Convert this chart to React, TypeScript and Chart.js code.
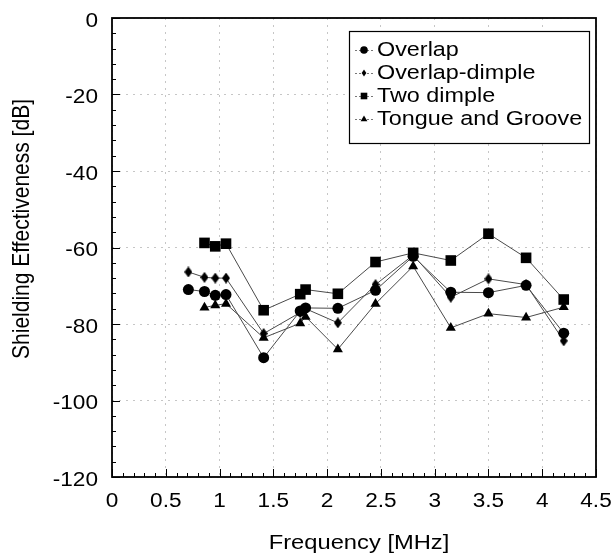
import React, { useEffect, useRef } from 'react';
import { Chart, registerables } from 'chart.js';

Chart.register(...registerables);

// ---- data ----
const freqWithLow = [0.71, 0.86, 0.96, 1.06, 1.41, 1.75, 1.8, 2.1, 2.45, 2.8, 3.15, 3.5, 3.85, 4.2];
const freqNoLow = [0.86, 0.96, 1.06, 1.41, 1.75, 1.8, 2.1, 2.45, 2.8, 3.15, 3.5, 3.85, 4.2];

const overlapValues = [-71.0, -71.5, -72.5, -72.3, -88.8, -76.6, -75.8, -75.9, -71.2, -62.3, -71.7, -71.8, -69.9, -82.4];
const overlapDimpleValues = [-66.4, -67.8, -68.0, -68.0, -82.5, -77.0, -76.0, -79.7, -69.7, -62.0, -73.0, -68.2, -69.7, -84.4];
const twoDimpleValues = [-58.8, -59.7, -59.0, -76.4, -72.2, -71.0, -72.1, -63.8, -61.4, -63.4, -56.4, -62.7, -73.6];
const tongueGrooveValues = [-75.7, -75.1, -74.7, -83.6, -79.8, -78.1, -86.6, -74.7, -64.9, -81.0, -77.3, -78.3, -75.6];

const seriesLabels = ['Overlap', 'Overlap-dimple', 'Two dimple', 'Tongue and Groove'];

const xMin = 0;
const xMax = 4.5;
const xStep = 0.5;
const yMin = -120;
const yMax = 0;
const yStep = 20;

const xTitle = 'Frequency [MHz]';
const yTitle = 'Shielding Effectiveness [dB]';

const FONT = '"Liberation Sans", Arial, Helvetica, sans-serif';
const STRETCH = 1.13;

function toPoints(xs: number[], ys: number[]) {
  return xs.map((x, i) => ({ x, y: ys[i] }));
}

function fmt(v: number) {
  return String(Math.round(v * 100) / 100);
}

function makeDiamond(w: number, h: number) {
  const c = document.createElement('canvas');
  c.width = w;
  c.height = h;
  const g = c.getContext('2d')!;
  g.fillStyle = '#000';
  g.beginPath();
  g.moveTo(w / 2, 0);
  g.lineTo(w, h / 2);
  g.lineTo(w / 2, h);
  g.lineTo(0, h / 2);
  g.closePath();
  g.fill();
  return c;
}

function drawMarker(ctx: CanvasRenderingContext2D, kind: string, x: number, y: number, r: number) {
  ctx.beginPath();
  if (kind === 'circle') {
    ctx.arc(x, y, r, 0, Math.PI * 2);
  } else if (kind === 'rect') {
    ctx.rect(x - r, y - r, 2 * r, 2 * r);
  } else if (kind === 'diamond') {
    ctx.moveTo(x, y - r * 1.25);
    ctx.lineTo(x + r * 0.85, y);
    ctx.lineTo(x, y + r * 1.25);
    ctx.lineTo(x - r * 0.85, y);
    ctx.closePath();
  } else if (kind === 'triangle') {
    ctx.moveTo(x, y - r);
    ctx.lineTo(x + r * 0.95, y + r * 0.65);
    ctx.lineTo(x - r * 0.95, y + r * 0.65);
    ctx.closePath();
  }
  ctx.fill();
}

function stretchedText(ctx: CanvasRenderingContext2D, text: string, x: number, y: number, align: CanvasTextAlign, sx: number) {
  ctx.save();
  ctx.translate(x, y);
  ctx.scale(sx, 1);
  ctx.textAlign = align;
  ctx.textBaseline = 'middle';
  ctx.fillText(text, 0, 0);
  ctx.restore();
}

const framePlugin = {
  id: 'frameTicks',
  afterDatasetsDraw(chart: any) {
    const { ctx, chartArea: a, scales } = chart;
    const x = scales.x;
    const y = scales.y;
    ctx.save();
    ctx.strokeStyle = '#000';
    ctx.lineWidth = 1;
    ctx.beginPath();
    for (let i = 0; i <= 45; i++) {
      const px = Math.round(x.getPixelForValue(i * 0.1)) + 0.5;
      const len = i % 5 === 0 ? 8 : 4;
      ctx.moveTo(px, a.bottom);
      ctx.lineTo(px, a.bottom - len);
    }
    for (let v = yMin; v <= yMax; v += 4) {
      const py = Math.round(y.getPixelForValue(v)) + 0.5;
      const len = v % 20 === 0 ? 8 : 4;
      ctx.moveTo(a.left, py);
      ctx.lineTo(a.left + len, py);
    }
    ctx.stroke();
    ctx.lineWidth = 1.8;
    ctx.strokeRect(a.left, a.top, a.right - a.left, a.bottom - a.top);
    ctx.restore();
  },
};

const labelsPlugin = {
  id: 'axisLabels',
  afterDraw(chart: any) {
    const { ctx, scales } = chart;
    const x = scales.x;
    const y = scales.y;
    ctx.save();
    ctx.fillStyle = '#000';
    ctx.font = `20px ${FONT}`;
    x.ticks.forEach((t: any) => {
      stretchedText(ctx, fmt(t.value), x.getPixelForValue(t.value), 501, 'center', STRETCH);
    });
    y.ticks.forEach((t: any) => {
      stretchedText(ctx, fmt(t.value), 98, y.getPixelForValue(t.value) + 3, 'right', STRETCH);
    });
    ctx.font = `21px ${FONT}`;
    stretchedText(ctx, xTitle, 359, 543, 'center', STRETCH);
    ctx.translate(22.5, 229);
    ctx.rotate(-Math.PI / 2);
    ctx.scale(1, STRETCH);
    ctx.textAlign = 'center';
    ctx.textBaseline = 'middle';
    ctx.fillText(yTitle, 0, 0);
    ctx.restore();
  },
};

const legendKinds = ['circle', 'diamond', 'rect', 'triangle'];
const legendSizes = [3.8, 2.8, 3.3, 3.6];

const legendPlugin = {
  id: 'boxLegend',
  afterDraw(chart: any) {
    const { ctx } = chart;
    const left = 349;
    const top = 31;
    const w = 240;
    const h = 112;
    ctx.save();
    ctx.fillStyle = '#fff';
    ctx.fillRect(left, top, w, h);
    ctx.strokeStyle = '#000';
    ctx.lineWidth = 1.2;
    ctx.strokeRect(left + 0.5, top + 0.5, w, h);
    chart.data.datasets.forEach((ds: any, i: number) => {
      const cy = 50 + i * 23;
      ctx.strokeStyle = '#777';
      ctx.lineWidth = 1;
      ctx.setLineDash([2, 2]);
      ctx.beginPath();
      ctx.moveTo(355, cy + 0.5);
      ctx.lineTo(374, cy + 0.5);
      ctx.stroke();
      ctx.setLineDash([]);
      ctx.fillStyle = '#000';
      drawMarker(ctx, legendKinds[i], 364, cy, legendSizes[i]);
      ctx.font = `20.5px ${FONT}`;
      stretchedText(ctx, ds.label, 377, cy + 0.5, 'left', 1.14);
    });
    ctx.restore();
  },
};

export default function App() {
  const canvasRef = useRef<HTMLCanvasElement | null>(null);

  useEffect(() => {
    if (!canvasRef.current) return;
    const common = {
      showLine: true,
      borderColor: '#4a4a4a',
      borderWidth: 1,
      backgroundColor: '#000',
      pointBackgroundColor: '#000',
      pointBorderColor: '#000',
      pointBorderWidth: 0,
      tension: 0,
    };
    const diamond = makeDiamond(8, 11);
    const chart = new Chart(canvasRef.current, {
      type: 'scatter',
      data: {
        datasets: [
          { ...common, label: seriesLabels[0], data: toPoints(freqWithLow, overlapValues), pointStyle: 'circle', pointRadius: 5.5 },
          { ...common, label: seriesLabels[1], data: toPoints(freqWithLow, overlapDimpleValues), pointStyle: diamond, pointRadius: 5 },
          { ...common, label: seriesLabels[2], data: toPoints(freqNoLow, twoDimpleValues), pointStyle: 'rect', pointRadius: 7.5 },
          { ...common, label: seriesLabels[3], data: toPoints(freqNoLow, tongueGrooveValues), pointStyle: 'triangle', pointRadius: 5.8 },
        ],
      },
      options: {
        responsive: false,
        animation: false,
        events: [],
        layout: { padding: { left: 0, top: 18, right: 16, bottom: 0 } },
        plugins: {
          legend: { display: false },
          tooltip: { enabled: false },
          title: { display: false },
        },
        scales: {
          x: {
            type: 'linear',
            min: xMin,
            max: xMax,
            ticks: { stepSize: xStep, display: false, autoSkip: false },
            grid: { color: '#c6c6c6', lineWidth: 1, drawTicks: false },
            border: { display: false, dash: [2, 5] },
            afterFit: (s: any) => { s.height = 77; },
          },
          y: {
            type: 'linear',
            min: yMin,
            max: yMax,
            ticks: { stepSize: yStep, display: false },
            grid: { color: '#c6c6c6', lineWidth: 1, drawTicks: false },
            border: { display: false, dash: [2, 5] },
            afterFit: (s: any) => { s.width = 112; },
          },
        },
      },
      plugins: [framePlugin, legendPlugin, labelsPlugin],
    } as any);
    return () => chart.destroy();
  }, []);

  return (
    <div style={{ position: 'absolute', left: 0, top: 0, width: 612, height: 554, background: '#fff' }}>
      <canvas ref={canvasRef} width={612} height={554} />
    </div>
  );
}
